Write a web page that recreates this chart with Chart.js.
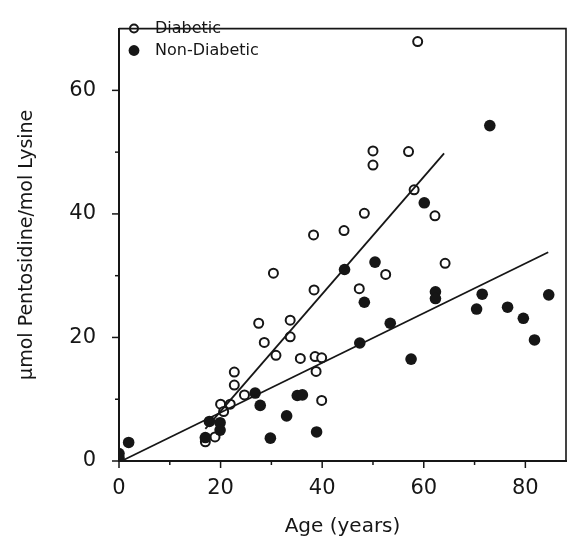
<!DOCTYPE html>
<html>
<head>
<meta charset="utf-8">
<script src="https://cdn.jsdelivr.net/npm/chart.js@4.4.1/dist/chart.umd.min.js"></script>
<style>
  html, body { margin: 0; padding: 0; background: #fff; }
  canvas { display: block; }
</style>
</head>
<body>
<canvas id="pentoChart" width="574" height="548"></canvas>
<script>
// data
const diabeticAge = [58.8, 50.0, 57.0, 50.0, 58.1, 62.2, 48.3, 44.3, 38.3, 30.4,
  38.4, 47.3, 52.5, 64.2, 27.5, 33.7, 28.6, 33.7, 30.9, 35.7,
  38.6, 39.9, 38.8, 39.9, 22.7, 22.7, 24.7, 20.0, 21.9, 20.6, 18.9, 17.0];
const diabeticPento = [67.9, 50.2, 50.1, 47.9, 43.9, 39.7, 40.1, 37.3, 36.6, 30.4,
  27.7, 27.9, 30.2, 32.0, 22.3, 22.8, 19.2, 20.1, 17.1, 16.6,
  16.9, 16.7, 14.5, 9.8, 14.4, 12.3, 10.7, 9.2, 9.2, 8.0, 3.9, 3.1];

const nonDiabeticAge = [73.0, 60.1, 44.4, 50.4, 48.3, 62.3, 62.3, 71.5, 70.4, 76.5,
  79.6, 81.8, 84.6, 53.4, 47.4, 57.5, 35.1, 36.1, 38.9, 33.0,
  29.8, 27.8, 26.8, 17.8, 19.9, 19.9, 17.0, 1.9, 0.0, 0.0];
const nonDiabeticPento = [54.3, 41.8, 31.0, 32.2, 25.7, 27.4, 26.3, 27.0, 24.6, 24.9,
  23.1, 19.6, 26.9, 22.3, 19.1, 16.5, 10.6, 10.7, 4.7, 7.3,
  3.7, 9.0, 11.0, 6.4, 6.2, 5.0, 3.8, 3.0, 0.5, 1.2];

// regression lines (end points)
const diabeticFitAge = [17, 64];
const diabeticFitPento = [5.2, 49.8];
const nonDiabeticFitAge = [1, 84.5];
const nonDiabeticFitPento = [0.2, 33.8];

const ink = '#161616';

function toPoints(xs, ys) {
  return xs.map((x, i) => ({ x: x, y: ys[i] }));
}

// frame on top/right, tick marks and the inset legend
const framePlugin = {
  id: 'framePlugin',
  afterDraw(chart) {
    const ctx = chart.ctx;
    const { left, right, top, bottom } = chart.chartArea;
    const x = chart.scales.x, y = chart.scales.y;
    ctx.save();
    ctx.strokeStyle = ink;
    ctx.lineWidth = 1.6;
    ctx.beginPath();
    ctx.moveTo(left, top);
    ctx.lineTo(right, top);
    ctx.lineTo(right, bottom);
    ctx.stroke();

    ctx.lineWidth = 1.5;
    for (let v = 0; v <= 80; v += 10) {
      const px = x.getPixelForValue(v);
      const len = v % 20 === 0 ? 7 : 4;
      ctx.beginPath();
      ctx.moveTo(px, bottom);
      ctx.lineTo(px, bottom + len);
      ctx.stroke();
    }
    for (let v = 0; v <= 60; v += 10) {
      const py = y.getPixelForValue(v);
      const len = v % 20 === 0 ? 7 : 4;
      ctx.beginPath();
      ctx.moveTo(left, py);
      ctx.lineTo(left - len, py);
      ctx.stroke();
    }

    // legend
    const ds = chart.data.datasets;
    ctx.font = '16px "DejaVu Sans"';
    ctx.textBaseline = 'middle';
    ctx.fillStyle = ink;
    [ds[0], ds[1]].forEach((d, i) => {
      const cy = 28.5 + i * 22;
      ctx.beginPath();
      ctx.arc(134, cy, i === 0 ? 4 : 5.4, 0, Math.PI * 2);
      if (i === 0) {
        ctx.lineWidth = 2;
        ctx.stroke();
      } else {
        ctx.fill();
      }
      ctx.fillText(d.label, 155, cy);
    });
    ctx.restore();
  }
};

const config = {
  type: 'scatter',
  data: {
    datasets: [
      {
        label: 'Diabetic',
        data: toPoints(diabeticAge, diabeticPento),
        pointRadius: 4.5,
        pointBorderWidth: 2,
        pointBackgroundColor: '#fff',
        pointBorderColor: ink,
        order: 2
      },
      {
        label: 'Non-Diabetic',
        data: toPoints(nonDiabeticAge, nonDiabeticPento),
        pointRadius: 5.8,
        pointBorderWidth: 0,
        pointBackgroundColor: ink,
        pointBorderColor: ink,
        order: 1
      },
      {
        type: 'line',
        label: 'Diabetic fit',
        data: toPoints(diabeticFitAge, diabeticFitPento),
        borderColor: ink,
        borderWidth: 1.8,
        pointRadius: 0,
        fill: false,
        order: 0
      },
      {
        type: 'line',
        label: 'Non-Diabetic fit',
        data: toPoints(nonDiabeticFitAge, nonDiabeticFitPento),
        borderColor: ink,
        borderWidth: 1.8,
        pointRadius: 0,
        fill: false,
        order: 0
      }
    ]
  },
  options: {
    responsive: false,
    animation: false,
    devicePixelRatio: 1,
    layout: { padding: { top: 12, right: 1, left: 0, bottom: 0 } },
    plugins: {
      legend: { display: false },
      tooltip: { enabled: false }
    },
    scales: {
      x: {
        type: 'linear',
        min: 0,
        max: 88,
        afterFit: s => { s.height = 87; },
        border: { color: ink, width: 2 },
        grid: { drawOnChartArea: false, tickLength: 7, tickColor: 'rgba(0,0,0,0)' },
        ticks: {
          stepSize: 10,
          autoSkip: false,
          maxRotation: 0,
          padding: 8,
          color: ink,
          font: { family: 'DejaVu Sans', size: 21 },
          callback: v => (v % 20 === 0 ? v : '')
        },
        title: {
          display: true,
          text: 'Age (years)',
          color: ink,
          font: { family: 'DejaVu Sans', size: 20 },
          padding: { top: 4, bottom: 9 }
        }
      },
      y: {
        type: 'linear',
        min: 0,
        max: 70,
        afterFit: s => { s.width = 119; },
        border: { color: ink, width: 2 },
        grid: { drawOnChartArea: false, tickLength: 7, tickColor: 'rgba(0,0,0,0)' },
        ticks: {
          stepSize: 10,
          autoSkip: false,
          padding: 16,
          color: ink,
          font: { family: 'DejaVu Sans', size: 21 },
          callback: v => (v % 20 === 0 ? v : '')
        },
        title: {
          display: true,
          text: 'µmol Pentosidine/mol Lysine',
          color: ink,
          font: { family: 'DejaVu Sans', size: 19 },
          padding: { top: 16, bottom: 0 }
        }
      }
    }
  },
  plugins: [framePlugin]
};

const pentoChart = new Chart(document.getElementById('pentoChart'), config);
</script>
</body>
</html>
